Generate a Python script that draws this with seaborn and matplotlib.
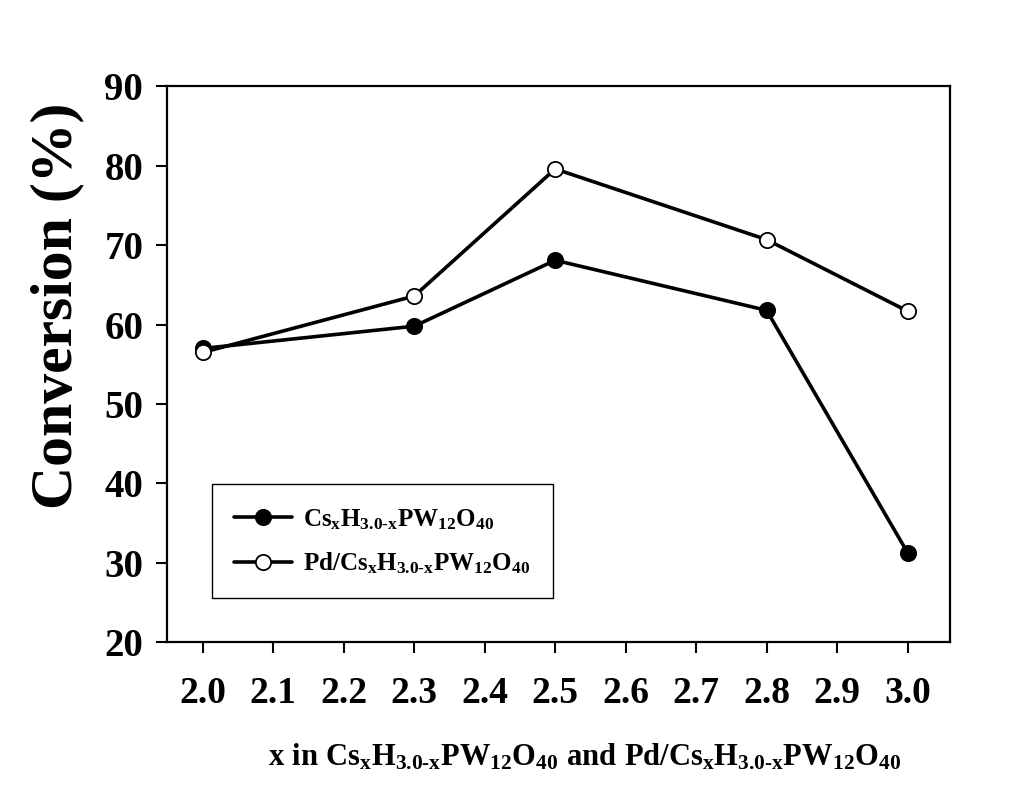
import matplotlib
matplotlib.use("Agg")
import matplotlib.pyplot as plt
import seaborn as sns
import pandas as pd

x_vals = [2.0, 2.3, 2.5, 2.8, 3.0]
cs_conv = [57.0, 59.8, 68.1, 61.8, 31.3]
pd_conv = [56.5, 63.6, 79.6, 70.7, 61.7]
x_ticks = [2.0, 2.1, 2.2, 2.3, 2.4, 2.5, 2.6, 2.7, 2.8, 2.9, 3.0]
y_ticks = [20, 30, 40, 50, 60, 70, 80, 90]

sns.set_style("ticks")
plt.rcParams["font.family"] = ["Liberation Serif", "DejaVu Serif"]
plt.rcParams["font.weight"] = "bold"
plt.rcParams["mathtext.fontset"] = "custom"
plt.rcParams["mathtext.rm"] = "Liberation Serif:bold"
plt.rcParams["mathtext.it"] = "Liberation Serif:bold"
plt.rcParams["mathtext.bf"] = "Liberation Serif:bold"
plt.rcParams["mathtext.default"] = "rm"

cs_label = r"$\mathrm{Cs_{x}H_{3.0\text{-}x}PW_{12}O_{40}}$"
pd_label = r"$\mathrm{Pd/Cs_{x}H_{3.0\text{-}x}PW_{12}O_{40}}$"

df_cs = pd.DataFrame({"x": x_vals, "y": cs_conv})
df_pd = pd.DataFrame({"x": x_vals, "y": pd_conv})

fig = plt.figure(figsize=(10.18, 7.92), dpi=100)
ax = fig.add_axes([0.164, 0.189, 0.769, 0.702])

sns.lineplot(data=df_cs, x="x", y="y", ax=ax, color="black", linewidth=2.6,
             marker="o", markersize=11, markerfacecolor="black",
             markeredgecolor="black", markeredgewidth=1.3, label=cs_label)
sns.lineplot(data=df_pd, x="x", y="y", ax=ax, color="black", linewidth=2.6,
             marker="o", markersize=11, markerfacecolor="white",
             markeredgecolor="black", markeredgewidth=1.3, label=pd_label)

ax.set_xlim(1.949, 3.06)
ax.set_ylim(20, 90)
ax.set_xticks(x_ticks)
ax.set_xticklabels([f"{t:.1f}" for t in x_ticks])
ax.set_yticks(y_ticks)
ax.set_yticklabels([str(t) for t in y_ticks])
ax.tick_params(axis="both", direction="out", length=8, width=1.5, colors="black")
ax.tick_params(axis="y", labelsize=28, pad=9)
ax.tick_params(axis="x", labelsize=27, pad=16)
for lbl in ax.get_xticklabels() + ax.get_yticklabels():
    lbl.set_fontweight("bold")
for sp in ax.spines.values():
    sp.set_visible(True)
    sp.set_linewidth(1.6)
    sp.set_color("black")

ax.set_ylabel("Conversion (%)", fontsize=43, fontweight="bold", color="black")
ax.yaxis.set_label_coords(-0.106, 0.606)
ax.set_xlabel(r"$\mathrm{x\ in\ Cs_{x}H_{3.0\text{-}x}PW_{12}O_{40}\ and\ Pd/Cs_{x}H_{3.0\text{-}x}PW_{12}O_{40}}$",
              fontsize=22, color="black")
ax.xaxis.set_label_coords(0.534, -0.18)

leg = ax.legend(loc="lower left", bbox_to_anchor=(0.0575, 0.079), fontsize=18,
                frameon=True, fancybox=False, framealpha=1, edgecolor="black",
                handlelength=2.3, handletextpad=0.45, borderpad=0.9,
                labelspacing=0.75, borderaxespad=0)
leg.get_frame().set_linewidth(1.0)
for t in leg.get_texts():
    t.set_color("black")

fig.savefig("out.png", dpi=100)
